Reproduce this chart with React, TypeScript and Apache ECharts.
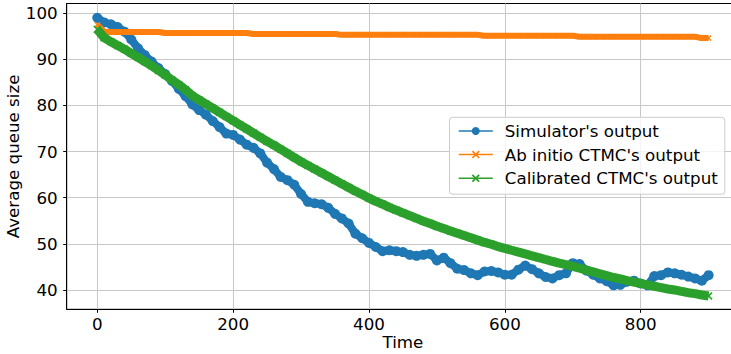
import React, { useEffect, useRef } from 'react';
import * as echarts from 'echarts';

const times = [
  0, 10, 20, 30, 40, 50, 60, 70, 80, 90,
  100, 110, 120, 130, 140, 150, 160, 170, 180, 190,
  200, 210, 220, 230, 240, 250, 260, 270, 280, 290,
  300, 310, 320, 330, 340, 350, 360, 370, 380, 390,
  400, 410, 420, 430, 440, 450, 460, 470, 480, 490,
  500, 510, 520, 530, 540, 550, 560, 570, 580, 590,
  600, 610, 620, 630, 640, 650, 660, 670, 680, 690,
  700, 710, 720, 730, 740, 750, 760, 770, 780, 790,
  800, 810, 820, 830, 840, 850, 860, 870, 880, 890,
  900,
];

const simulator = [
  99.0, 98.0, 97.6, 97.0, 96.0, 94.3, 92.4, 90.9, 89.5, 88.1,
  86.8, 85.3, 83.6, 82.0, 80.2, 79.0, 78.0, 76.6, 75.3, 73.9,
  73.6, 72.6, 71.5, 70.8, 69.6, 67.6, 66.2, 64.5, 63.8, 62.8,
  60.8, 59.1, 58.8, 58.6, 57.8, 56.5, 55.5, 54.4, 52.2, 51.2,
  50.2, 49.3, 48.4, 48.6, 48.4, 48.2, 47.6, 47.4, 47.6, 47.8,
  46.4, 47.0, 45.8, 44.6, 44.3, 43.6, 43.2, 44.0, 44.1, 43.8,
  43.3, 43.3, 44.4, 45.3, 44.5, 43.6, 42.8, 42.5, 43.2, 43.6,
  45.8, 45.6, 44.2, 43.3, 42.5, 41.9, 41.0, 41.1, 41.8, 42.0,
  41.4, 41.0, 43.0, 43.2, 43.8, 43.6, 43.3, 42.9, 42.5, 42.0,
  43.2,
];

const abInitio = [
  97.5, 96.0, 95.9, 95.9, 95.9, 95.9, 95.9, 95.9, 95.9, 95.9,
  95.7, 95.7, 95.7, 95.7, 95.7, 95.7, 95.7, 95.7, 95.7, 95.7,
  95.7, 95.7, 95.7, 95.5, 95.5, 95.5, 95.5, 95.5, 95.5, 95.5,
  95.5, 95.5, 95.5, 95.5, 95.5, 95.5, 95.3, 95.3, 95.3, 95.3,
  95.3, 95.3, 95.3, 95.3, 95.3, 95.3, 95.3, 95.3, 95.3, 95.3,
  95.3, 95.3, 95.3, 95.3, 95.3, 95.3, 95.3, 95.1, 95.1, 95.1,
  95.1, 95.1, 95.1, 95.1, 95.1, 95.1, 95.1, 95.1, 95.1, 95.1,
  95.1, 94.9, 94.9, 94.9, 94.9, 94.9, 94.9, 94.9, 94.9, 94.9,
  94.9, 94.9, 94.9, 94.9, 94.9, 94.9, 94.9, 94.9, 94.9, 94.6,
  94.6,
];

const calibrated = [
  96.5, 94.7, 93.8, 93.0, 92.2, 91.3, 90.4, 89.5, 88.6, 87.6,
  86.6, 85.5, 84.5, 83.4, 82.1, 81.2, 80.3, 79.4, 78.5, 77.6,
  76.7, 75.8, 74.9, 74.0, 73.1, 72.2, 71.4, 70.5, 69.6, 68.7,
  67.8, 67.0, 66.2, 65.4, 64.6, 63.8, 63.0, 62.2, 61.4, 60.7,
  59.9, 59.2, 58.6, 57.9, 57.3, 56.7, 56.1, 55.5, 54.9, 54.4,
  53.8, 53.3, 52.8, 52.3, 51.8, 51.3, 50.8, 50.3, 49.9, 49.4,
  49.0, 48.6, 48.2, 47.8, 47.4, 47.0, 46.6, 46.2, 45.8, 45.5,
  45.1, 44.7, 44.3, 43.9, 43.5, 43.1, 42.7, 42.4, 42.0, 41.7,
  41.4, 41.1, 40.8, 40.5, 40.2, 40.0, 39.7, 39.4, 39.2, 38.9,
  38.7,
];

const xTicks = [0, 200, 400, 600, 800];
const yTicks = [40, 50, 60, 70, 80, 90, 100];
const seriesNames = ["Simulator's output", "Ab initio CTMC's output", "Calibrated CTMC's output"];
const colors = ['#1f77b4', '#ff7f0e', '#2ca02c'];

const X_SYMBOL = 'path://M1.5,0L5,3.5L8.5,0L10,1.5L6.5,5L10,8.5L8.5,10L5,6.5L1.5,10L0,8.5L3.5,5L0,1.5Z';
const FONT = 'DejaVu Sans';
const FS = 16.7;

function pairs(vals: number[]) {
  return times.map((t, i) => [t, vals[i]]);
}

export default function App() {
  const ref = useRef<HTMLDivElement>(null);
  useEffect(() => {
    if (!ref.current) return;
    const chart = echarts.init(ref.current, undefined, { renderer: 'svg' });
    const axisCommon = {
      type: 'value',
      axisLine: { show: true, onZero: false, lineStyle: { color: '#000', width: 1 } },
      splitLine: { show: true, lineStyle: { color: '#c8c8c8', width: 1 } },
      nameLocation: 'middle',
      nameMoveOverlap: false,
      nameTextStyle: { fontFamily: FONT, fontSize: FS, color: '#000' },
    };
    chart.setOption({
      animation: false,
      backgroundColor: '#ffffff',
      grid: {
        left: 66.7, top: 3.5, width: 672.5, height: 305.8,
        outerBoundsMode: 'none', containLabel: false,
        show: true, borderColor: '#000', borderWidth: 1, backgroundColor: 'transparent',
      },
      xAxis: {
        ...axisCommon,
        min: -45, max: 945,
        name: 'Time', nameGap: 24,
        axisTick: { show: true, inside: false, length: 3.5, customValues: xTicks, lineStyle: { color: '#000' } },
        axisLabel: { customValues: xTicks, margin: 6, fontFamily: FONT, fontSize: FS, color: '#000' },
      },
      yAxis: {
        ...axisCommon,
        min: 35.8, max: 102.1,
        name: 'Average queue size', nameGap: 45,
        axisTick: { show: true, inside: false, length: 3.5, customValues: yTicks, lineStyle: { color: '#000' } },
        axisLabel: { customValues: yTicks, margin: 9, fontFamily: FONT, fontSize: FS, color: '#000' },
      },
      legend: {
        orient: 'vertical', left: 449.5, top: 117.3,
        data: seriesNames,
        itemWidth: 34, itemHeight: 10, itemGap: 6.6,
        padding: [5.2, 7, 7.5, 8.5],
        backgroundColor: 'rgba(255,255,255,0.8)', borderColor: '#cccccc', borderWidth: 1, borderRadius: 3,
        textStyle: { fontFamily: FONT, fontSize: FS, color: '#000', lineHeight: 17, padding: [0, 0, 0, 7] },
        lineStyle: { width: 1.5 },
        selectedMode: false,
      },
      series: [
        {
          name: seriesNames[0], type: 'line', data: pairs(simulator),
          symbol: 'circle', symbolSize: 10, showSymbol: true,
          lineStyle: { width: 8, color: colors[0] }, itemStyle: { color: colors[0] },
          emphasis: { disabled: true }, z: 2,
        },
        {
          name: seriesNames[1], type: 'line', data: pairs(abInitio),
          symbol: X_SYMBOL, symbolSize: 6, showSymbol: true,
          lineStyle: { width: 6, color: colors[1] }, itemStyle: { color: colors[1] },
          emphasis: { disabled: true }, z: 3,
        },
        {
          name: seriesNames[2], type: 'line', data: pairs(calibrated),
          symbol: X_SYMBOL, symbolSize: 8, showSymbol: true,
          lineStyle: { width: 9, color: colors[2] }, itemStyle: { color: colors[2] },
          emphasis: { disabled: true }, z: 4,
        },
      ],
    });
    return () => chart.dispose();
  }, []);
  return <div ref={ref} style={{ position: 'absolute', left: 0, top: 0, width: 731, height: 354 }} />;
}
